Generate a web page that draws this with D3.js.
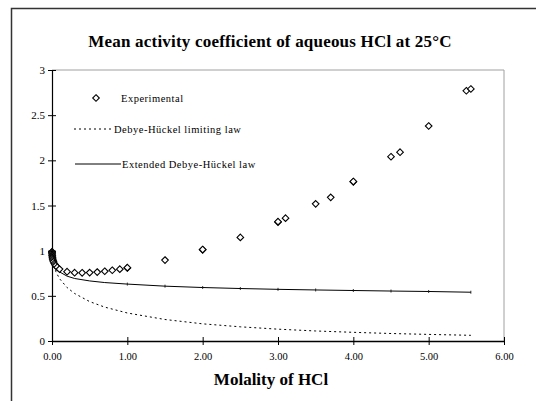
<!DOCTYPE html>
<html>
<head>
<meta charset="utf-8">
<script src="https://cdn.jsdelivr.net/npm/d3@7"></script>
<style>
  body { margin: 0; background: #fff; }
  svg text { font-family: "Liberation Serif", "Times New Roman", serif; }
</style>
</head>
<body>
<div id="chart"></div>
<script>
// experimental mean activity coefficients (molality, gamma)
const expMolality = [0.0001, 0.0002, 0.0005, 0.001, 0.002, 0.003, 0.005, 0.007, 0.01, 0.015, 0.02, 0.03, 0.04, 0.05, 0.07, 0.1,
  0.2, 0.3, 0.4, 0.5, 0.6, 0.7, 0.8, 0.9, 1.0, 1.0, 1.5, 2.0, 2.0, 2.5, 3.0, 3.0, 3.1, 3.5, 3.7, 4.0, 4.0, 4.5, 4.62, 5.0, 5.5, 5.56];
const expGamma = [0.988, 0.984, 0.976, 0.966, 0.952, 0.943, 0.929, 0.918, 0.905, 0.889, 0.876, 0.858, 0.844, 0.833, 0.816, 0.796,
  0.767, 0.756, 0.755, 0.757, 0.763, 0.772, 0.783, 0.795, 0.809, 0.812, 0.896, 1.009, 1.013, 1.147, 1.316, 1.321, 1.36, 1.518, 1.59, 1.762, 1.766, 2.04, 2.09, 2.38, 2.77, 2.79];

// theory curves
const lawMolality = [0, 0.001, 0.005, 0.01, 0.02, 0.05, 0.1, 0.2, 0.3, 0.5, 0.7, 1.0, 1.5, 2.0, 2.5, 3.0, 3.5, 4.0, 4.5, 5.0, 5.56];
const limitingGamma = [1, 0.963, 0.920, 0.889, 0.847, 0.769, 0.690, 0.592, 0.526, 0.436, 0.375, 0.310, 0.238, 0.190, 0.157, 0.131, 0.111, 0.096, 0.083, 0.073, 0.063];
const extendedGamma = [1, 0.966, 0.930, 0.905, 0.872, 0.818, 0.765, 0.718, 0.692, 0.665, 0.647, 0.630, 0.607, 0.592, 0.581, 0.572, 0.565, 0.559, 0.553, 0.548, 0.540];

const xTicks = [0, 1, 2, 3, 4, 5, 6];
const yTicks = [0, 0.5, 1, 1.5, 2, 2.5, 3];

const W = 536, H = 401;
const serif = "'Liberation Serif', 'Times New Roman', serif";
const svg = d3.select("#chart").append("svg")
  .attr("width", W).attr("height", H);

// chart frame (runs off the window on the right and bottom)
svg.append("rect")
  .attr("x", 11.5).attr("y", 8.5)
  .attr("width", 700).attr("height", 600)
  .attr("fill", "#fff").attr("stroke", "#333").attr("stroke-width", 1.5);

const x = d3.scaleLinear().domain([0, 6]).range([52, 504]);
const y = d3.scaleLinear().domain([0, 3]).range([341, 70]);

// plot area border (top/right grey)
svg.append("path")
  .attr("d", `M${x(0)},${y(3)}H${x(6)}V${y(0)}`)
  .attr("fill", "none").attr("stroke", "#a0a0a0").attr("stroke-width", 1);

// title
svg.append("text")
  .attr("x", 270).attr("y", 47)
  .attr("text-anchor", "middle")
  .style("font-size", "17px").style("font-weight", "bold").style("letter-spacing", "0.2px")
  .text("Mean activity coefficient of aqueous HCl at 25°C");

// axes
const xAxis = svg.append("g")
  .attr("transform", `translate(0,${y(0)})`)
  .call(d3.axisBottom(x).tickValues(xTicks).tickFormat(d3.format(".2f")).tickSizeInner(0).tickSizeOuter(0));
xAxis.select(".domain").attr("stroke", "#000").attr("stroke-width", 1.5);
xAxis.selectAll(".tick").append("line").attr("y1", -4).attr("y2", 4).attr("stroke", "#000");
xAxis.selectAll(".tick text").attr("y", 12).attr("dy", "0.71em")
  .style("font-size", "10.5px").style("font-family", serif).attr("fill", "#000");

const yAxis = svg.append("g")
  .attr("transform", `translate(${x(0)},0)`)
  .call(d3.axisLeft(y).tickValues(yTicks).tickFormat(d3.format("")).tickSizeInner(0).tickSizeOuter(0));
yAxis.select(".domain").attr("stroke", "#000").attr("stroke-width", 1.2);
yAxis.selectAll(".tick").append("line").attr("x1", -4).attr("x2", 4).attr("stroke", "#000");
yAxis.selectAll(".tick text").attr("x", -7)
  .style("font-size", "11px").style("font-family", serif).attr("fill", "#000");

// x axis title
svg.append("text")
  .attr("x", 271).attr("y", 385)
  .attr("text-anchor", "middle")
  .style("font-size", "17px").style("font-weight", "bold")
  .text("Molality of HCl");

const line = d3.line().x(d => x(d[0])).y(d => y(d[1]));

// limiting law (dotted)
svg.append("path")
  .datum(lawMolality.map((m, i) => [m, limitingGamma[i]]))
  .attr("d", line)
  .attr("fill", "none").attr("stroke", "#000").attr("stroke-width", 1)
  .attr("stroke-dasharray", "2,3");

// extended law (solid)
const ext = lawMolality.map((m, i) => [m, extendedGamma[i]]);
svg.append("path")
  .datum(ext)
  .attr("d", line)
  .attr("fill", "none").attr("stroke", "#000").attr("stroke-width", 1);
svg.append("g").selectAll("line")
  .data(ext.filter(d => d[0] >= 1))
  .join("line")
    .attr("x1", d => x(d[0])).attr("x2", d => x(d[0]))
    .attr("y1", d => y(d[1]) - 1.5).attr("y2", d => y(d[1]) + 1.5)
    .attr("stroke", "#000").attr("stroke-width", 0.8);

// experimental diamonds
const diamond = d3.symbol().type(d3.symbolDiamond2).size(28);
svg.append("g").selectAll("path")
  .data(expMolality.map((m, i) => [m, expGamma[i]]))
  .join("path")
    .attr("d", diamond)
    .attr("transform", d => `translate(${x(d[0])},${y(d[1])})`)
    .attr("fill", "#fff").attr("stroke", "#000").attr("stroke-width", 1.1);

// legend
const legend = svg.append("g")
  .style("font-size", "10.5px").style("font-family", serif).style("letter-spacing", "0.5px");
legend.append("path").attr("d", diamond)
  .attr("transform", "translate(96,98)")
  .attr("fill", "#fff").attr("stroke", "#000").attr("stroke-width", 1.1);
legend.append("text").attr("x", 121).attr("y", 101.5).text("Experimental");
legend.append("line").attr("x1", 74).attr("x2", 113).attr("y1", 129).attr("y2", 129)
  .attr("stroke", "#000").attr("stroke-dasharray", "2,3");
legend.append("text").attr("x", 114).attr("y", 132.5).text("Debye-Hückel limiting law");
legend.append("line").attr("x1", 75).attr("x2", 121).attr("y1", 164).attr("y2", 164)
  .attr("stroke", "#000");
legend.append("text").attr("x", 122).attr("y", 167.5).text("Extended Debye-Hückel law");
</script>
</body>
</html>
